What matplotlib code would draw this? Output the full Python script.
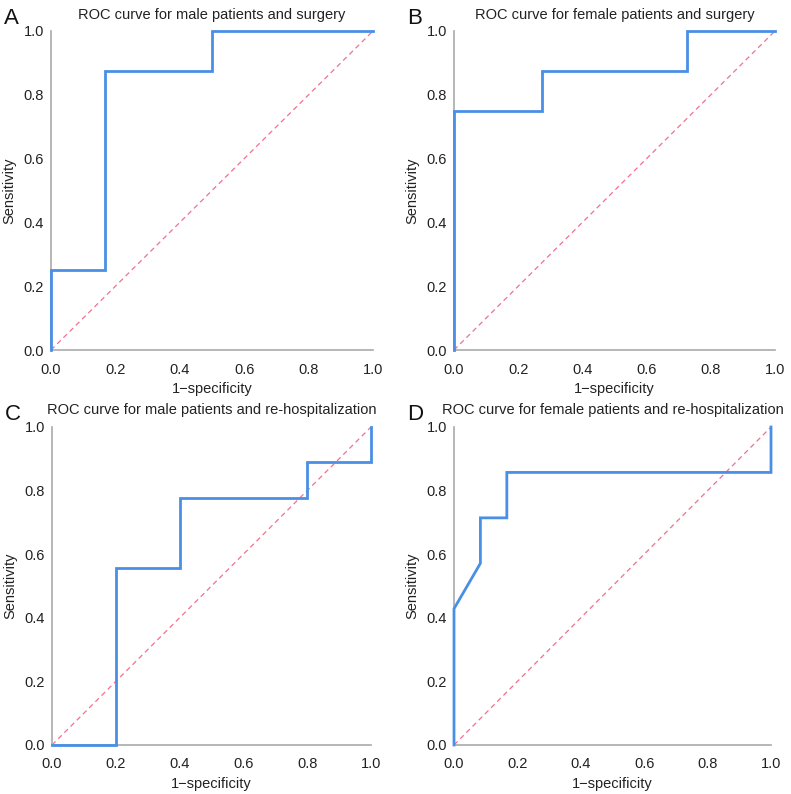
import matplotlib
matplotlib.use("Agg")
import matplotlib.pyplot as plt

plt.rcParams['font.family'] = ['Liberation Sans', 'DejaVu Sans']

# ROC points (1-specificity, sensitivity)
male_surgery_fpr = [0, 0, 1/6, 1/6, 0.5, 0.5, 1]
male_surgery_tpr = [0, 0.25, 0.25, 0.875, 0.875, 1, 1]

female_surgery_fpr = [0, 0, 3/11, 3/11, 8/11, 8/11, 1]
female_surgery_tpr = [0, 0.75, 0.75, 0.875, 0.875, 1, 1]

male_rehosp_fpr = [0, 0.2, 0.2, 0.4, 0.4, 0.8, 0.8, 1, 1]
male_rehosp_tpr = [0, 0, 5/9, 5/9, 7/9, 7/9, 8/9, 8/9, 1]

female_rehosp_fpr = [0, 0, 1/12, 1/12, 2/12, 2/12, 1, 1]
female_rehosp_tpr = [0, 3/7, 4/7, 5/7, 5/7, 6/7, 6/7, 1]

titles = ["ROC curve for male patients and surgery",
          "ROC curve for female patients and surgery",
          "ROC curve for male patients and re-hospitalization",
          "ROC curve for female patients and re-hospitalization"]
letters = ["A", "B", "C", "D"]
ticks = [0.0, 0.2, 0.4, 0.6, 0.8, 1.0]

curves = [(male_surgery_fpr, male_surgery_tpr),
          (female_surgery_fpr, female_surgery_tpr),
          (male_rehosp_fpr, male_rehosp_tpr),
          (female_rehosp_fpr, female_rehosp_tpr)]

W, H = 791, 794
# axes boxes in pixels: left, right, top, bottom
boxes = [(51, 373, 31, 350), (454, 775, 31, 350),
         (52, 371, 427, 745), (454, 771, 427, 745)]

fig = plt.figure(figsize=(W / 100, H / 100), dpi=100)

for i, (l, r, t, b) in enumerate(boxes):
    ax = fig.add_axes([l / W, 1 - b / H, (r - l) / W, (b - t) / H])
    fpr, tpr = curves[i]
    ax.plot([0, 1], [0, 1], color='#f07090', lw=0.9, ls=(0, (4, 3)), zorder=1)
    ax.plot(fpr, tpr, color='#4a8fe6', lw=2, zorder=3, clip_on=False,
            solid_joinstyle='miter')
    ax.set_xlim(0, 1)
    ax.set_ylim(0, 1)
    ax.set_xticks(ticks)
    ax.set_yticks(ticks)
    ax.set_xticklabels([f"{v:.1f}" for v in ticks])
    ax.set_yticklabels([f"{v:.1f}" for v in ticks])
    ax.tick_params(length=0, labelsize=10.5, colors='#222222')
    ax.tick_params(axis='x', pad=9)
    ax.tick_params(axis='y', pad=5)
    for s in ['top', 'right']:
        ax.spines[s].set_visible(False)
    for s in ['left', 'bottom']:
        ax.spines[s].set_color('#aaaaaa')
        ax.spines[s].set_linewidth(1.2)
        ax.spines[s].set_zorder(2)
    ax.set_xlabel("1\u2212specificity", fontsize=10.5, color='#222222', labelpad=4)
    ax.set_ylabel("Sensitivity", fontsize=10.5, color='#222222', labelpad=5)
    ax.set_title(titles[i], fontsize=10.5, color='#222222', pad=9)
    ax.patch.set_alpha(0)
    fig.text((l - 47) / W, 1 - (t - 13) / H, letters[i], fontsize=16,
             va='center', ha='left', color='#111111')

fig.savefig("out.png", dpi=100)
